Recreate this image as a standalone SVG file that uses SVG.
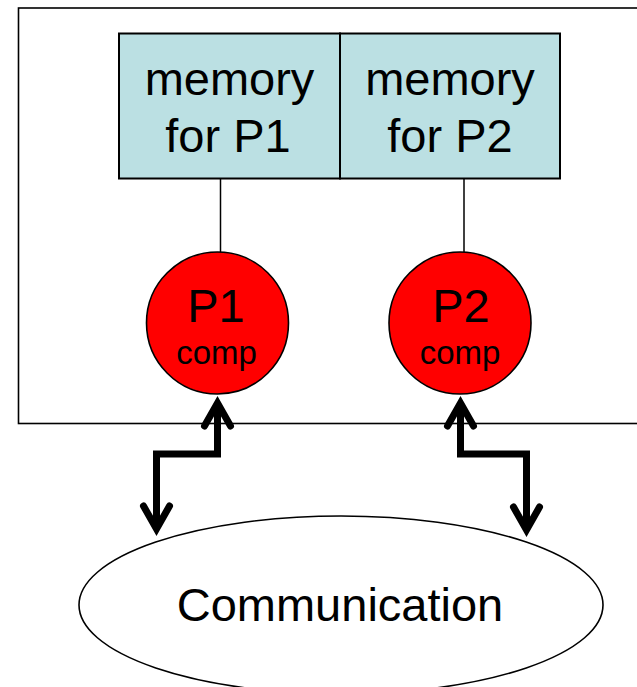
<svg xmlns="http://www.w3.org/2000/svg" width="637" height="687" viewBox="0 0 637 687">
  <style>
    .frame { fill: #FFFFFF; stroke: #000000; stroke-width: 1.6; }
    .mem { fill: #BBE0E3; stroke: #000000; stroke-width: 2; }
    .proc { fill: #FF0000; stroke: #000000; stroke-width: 1.6; }
    .comm { fill: #FFFFFF; stroke: #000000; stroke-width: 1.6; }
    .link { fill: none; stroke: #000000; stroke-width: 1.5; }
    .msg { fill: none; stroke: #000000; stroke-width: 7; stroke-linejoin: miter; }
    .big { font-family: "Liberation Sans", Arial, sans-serif; font-size: 47px; fill: #000000; text-anchor: middle; }
    .small { font-family: "Liberation Sans", Arial, sans-serif; font-size: 33px; fill: #000000; text-anchor: middle; }
  </style>
  <defs>
    <marker id="chevron" markerUnits="userSpaceOnUse" orient="auto-start-reverse"
            refX="0" refY="0" markerWidth="60" markerHeight="60"
            viewBox="-40 -30 60 60" overflow="visible">
      <path d="M -23,-13 L 0,0 L -23,13" fill="none" stroke="#000000" stroke-width="7"
            stroke-linecap="round" stroke-linejoin="miter"/>
    </marker>
  </defs>

  <!-- node enclosure -->
  <g id="node">
    <rect class="frame" x="18.5" y="8" width="640" height="415.5"/>
  </g>

  <!-- local memories -->
  <g id="memory-p1">
    <rect class="mem" x="119" y="33.5" width="221" height="145"/>
    <text class="big" x="229.5" y="95">memory</text>
    <text class="big" x="228" y="151.5">for P1</text>
  </g>
  <g id="memory-p2">
    <rect class="mem" x="340" y="33.5" width="220" height="145"/>
    <text class="big" x="450" y="95">memory</text>
    <text class="big" x="450" y="151.5">for P2</text>
  </g>

  <!-- connectors -->
  <g id="connectors">
    <line class="link" x1="220.5" y1="179" x2="220.5" y2="252.5"/>
    <line class="link" x1="464" y1="179" x2="464" y2="252.5"/>
    <polyline class="msg" points="217.5,403 217.5,454 156.5,454 156.5,529"
              marker-start="url(#chevron)" marker-end="url(#chevron)"/>
    <polyline class="msg" points="460.5,403 460.5,454 526.5,454 526.5,530"
              marker-start="url(#chevron)" marker-end="url(#chevron)"/>
  </g>

  <!-- processors -->
  <g id="p1">
    <circle class="proc" cx="217.5" cy="323" r="71"/>
    <text class="big" x="216" y="322">P1</text>
    <text class="small" x="216.5" y="364">comp</text>
  </g>
  <g id="p2">
    <circle class="proc" cx="460" cy="323" r="71"/>
    <text class="big" x="461" y="322">P2</text>
    <text class="small" x="460" y="364">comp</text>
  </g>

  <!-- interconnect -->
  <g id="communication">
    <ellipse class="comm" cx="341" cy="605" rx="262" ry="89"/>
    <text class="big" x="340" y="621">Communication</text>
  </g>
</svg>
